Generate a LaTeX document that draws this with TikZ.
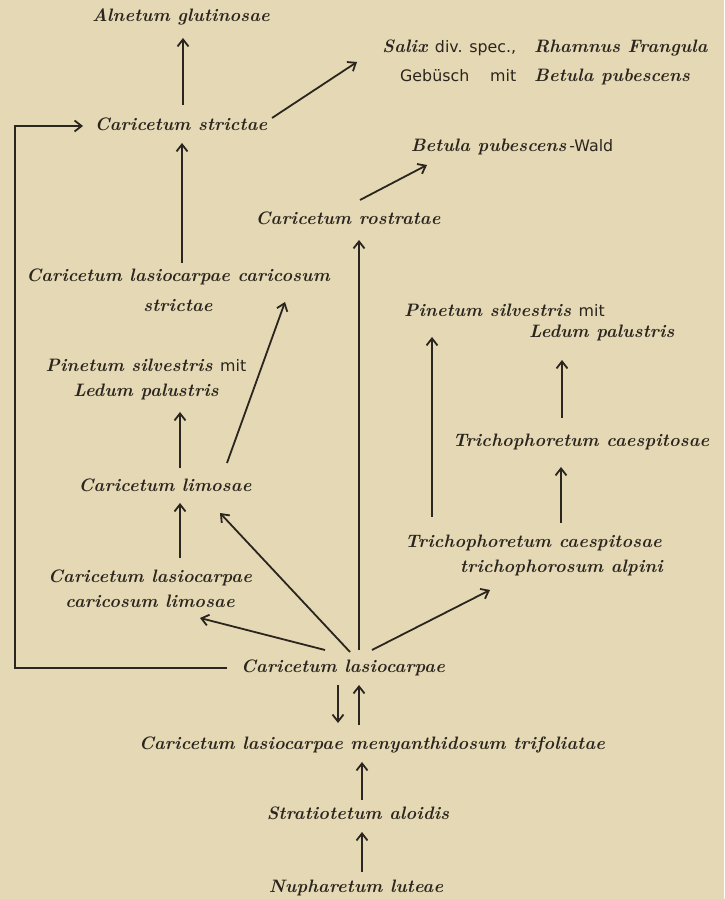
\documentclass[tikz,border=0pt]{standalone}
\usepackage{fontspec}
\usepackage{tikz}
\usetikzlibrary{arrows.meta}
\definecolor{PaperTan}{HTML}{E5D8B4}
\definecolor{InkDark}{HTML}{2A251E}
\newfontfamily\taxfont{lmroman10-bolditalic.otf}[LetterSpace=1]
\newfontfamily\plainword{DejaVu Sans}[Scale=0.88]

\tikzset{
  taxon/.style={inner sep=0pt, text=InkDark, align=center,
                font=\taxfont\fontsize{18}{25}\selectfont},
  succ/.style={draw=InkDark, line width=1.8pt,
               -{Straight Barb[length=7pt,width=11pt]}},
}

\begin{document}
\begin{tikzpicture}[x=1pt,y=1pt]
  \fill[PaperTan] (0,0) rectangle (724,899);
  \useasboundingbox (0,0) rectangle (724,899);

  % upper part
  \node[taxon] (aln)    at (181,882) {Alnetum glutinosae};
  \node[taxon] (cstr)   at (181,775) {Caricetum strictae};
  \node[taxon] (salix)  at (545,837) {Salix {\plainword div. spec.,}\quad Rhamnus Frangula\\[4pt]
                                      {\plainword Gebüsch \quad mit}\quad Betula pubescens};
  \node[taxon] (betw)   at (512,752) {Betula pubescens\,{\plainword-Wald}};
  \node[taxon] (crost)  at (348,681) {Caricetum rostratae};
  \node[taxon] (clcs)   at (178,609) {Caricetum lasiocarpae caricosum\\[5pt] strictae};

  % left column
  \node[taxon] (pinl)   at (146,520) {Pinetum silvestris {\plainword mit}\\ Ledum palustris};
  \node[taxon] (climo)  at (165,414) {Caricetum limosae};
  \node[taxon] (clcl)   at (150,310) {Caricetum lasiocarpae\\ caricosum limosae};

  % right column
  \node[taxon, align=left, anchor=west] (pinr) at (404,577)
       {Pinetum silvestris {\plainword mit}\\[-4pt]\hspace*{125pt}Ledum palustris};
  \node[taxon] (trc)    at (581,457) {Trichophoretum caespitosae};
  \node[taxon, align=left, anchor=west] (tta) at (405,344)
       {Trichophoretum caespitosae\\\hspace*{55pt}trichophorosum alpini};

  % lower trunk
  \node[taxon] (clasio) at (343,231) {Caricetum lasiocarpae};
  \node[taxon] (clmt)   at (372,154) {Caricetum lasiocarpae menyanthidosum trifoliatae};
  \node[taxon] (strat)  at (358,86)  {Stratiotetum aloidis};
  \node[taxon] (nuph)   at (356,11)  {Nupharetum luteae};
  \coordinate (loopx) at (15,500);

  % successions
  \draw[succ] ([shift={(2,19)}]cstr.center) -- ([shift={(2,-21)}]aln.center);
  \draw[succ] ([shift={(91,6)}]cstr.center) -- ([shift={(-188,0)}]salix.center);
  \draw[succ] ([shift={(4,27)}]clcs.center) -- ([shift={(1,-19)}]cstr.center);
  \draw[succ] ([shift={(12,18)}]crost.center) -- ([shift={(-85,-18)}]betw.center);
  \draw[succ] ([shift={(16,18)}]clasio.center) -- ([shift={(11,-22)}]crost.center);
  \draw[succ] ([shift={(62,22)}]climo.center) -- ([shift={(107,-12)}]clcs.center);
  \draw[succ] ([shift={(15,17)}]climo.center) -- ([shift={(34,-33)}]pinl.center);
  \draw[succ] ([shift={(30,31)}]clcl.center) -- ([shift={(15,-18)}]climo.center);
  \draw[succ] ([shift={(-18,18)}]clasio.center) -- ([shift={(50,-29)}]clcl.center);
  \draw[succ] ([shift={(7,16)}]clasio.center) -- ([shift={(55,-28)}]climo.center);
  \draw[succ] ([shift={(29,18)}]clasio.center) -- ([shift={(85,-35)}]tta.west);
  \draw[succ] ([shift={(27,38)}]tta.west) -- ([shift={(28,-15)}]pinr.west);
  \draw[succ] ([shift={(156,32)}]tta.west) -- ([shift={(-20,-25)}]trc.center);
  \draw[succ] ([shift={(-19,24)}]trc.center) -- ([shift={(158,-38)}]pinr.west);
  \draw[succ] ([shift={(-5,-17)}]clasio.center) -- ([shift={(-34,22)}]clmt.center);
  \draw[succ] ([shift={(-13,20)}]clmt.center) -- ([shift={(16,-17)}]clasio.center);
  \draw[succ] ([shift={(4,13)}]strat.center) -- ([shift={(-10,-17)}]clmt.center);
  \draw[succ] ([shift={(6,16)}]nuph.center) -- ([shift={(4,-19)}]strat.center);
  \draw[succ] ([shift={(-116,0)}]clasio.center) -| (loopx)
              |- ([shift={(-98,-2)}]cstr.center);
\end{tikzpicture}
\end{document}
